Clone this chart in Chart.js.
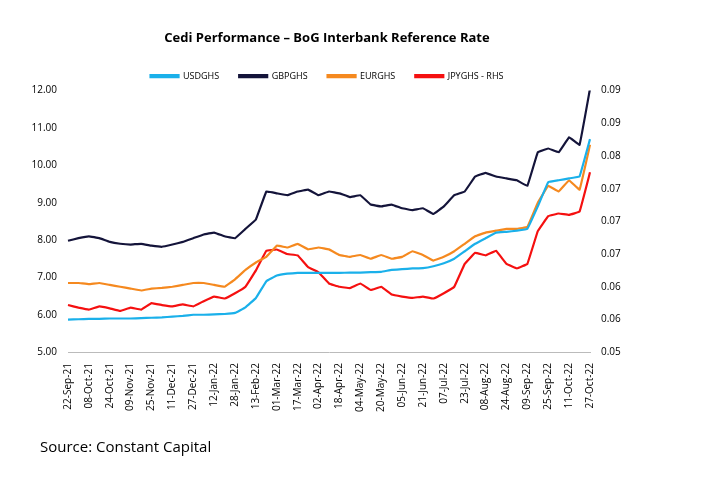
<!DOCTYPE html>
<html lang="en">
<head>
<meta charset="UTF-8">
<title>Cedi Performance</title>
<script src="https://cdn.jsdelivr.net/npm/chart.js@4.4.0/dist/chart.umd.min.js"></script>
<style>
  body { margin: 0; background: #fff; }
  .wrap { position: relative; width: 725px; height: 479px; }
  .source { position: absolute; left: 40px; top: 436px; font: 15px "Open Sans", sans-serif; color: #000; }
</style>
</head>
<body>
<div class="wrap">
  <canvas id="chart" width="725" height="479"></canvas>
  <div class="source">Source: Constant Capital</div>
</div>
<script>
// 8-day samples, Sep-21 to Oct-22
var dates = ["22-Sep-21","30-Sep-21","08-Oct-21","16-Oct-21","24-Oct-21","01-Nov-21","09-Nov-21","17-Nov-21","25-Nov-21","03-Dec-21",
  "11-Dec-21","19-Dec-21","27-Dec-21","04-Jan-22","12-Jan-22","20-Jan-22","28-Jan-22","05-Feb-22","13-Feb-22","21-Feb-22",
  "01-Mar-22","09-Mar-22","17-Mar-22","25-Mar-22","02-Apr-22","10-Apr-22","18-Apr-22","26-Apr-22","04-May-22","12-May-22",
  "20-May-22","28-May-22","05-Jun-22","13-Jun-22","21-Jun-22","29-Jun-22","07-Jul-22","15-Jul-22","23-Jul-22","31-Jul-22",
  "08-Aug-22","16-Aug-22","24-Aug-22","01-Sep-22","09-Sep-22","17-Sep-22","25-Sep-22","03-Oct-22","11-Oct-22","19-Oct-22","27-Oct-22"];

var usdghs = [5.87,5.88,5.89,5.89,5.9,5.9,5.9,5.91,5.92,5.93,5.95,5.97,6.0,6.0,6.01,6.02,6.05,6.2,6.45,6.9,
  7.05,7.1,7.12,7.12,7.12,7.12,7.12,7.13,7.13,7.14,7.15,7.2,7.22,7.24,7.25,7.3,7.38,7.5,7.7,7.9,
  8.05,8.2,8.22,8.25,8.3,8.9,9.55,9.6,9.65,9.7,10.7];
var gbpghs = [7.98,8.05,8.1,8.05,7.95,7.9,7.88,7.9,7.85,7.82,7.88,7.95,8.05,8.15,8.2,8.1,8.05,8.3,8.55,9.3,
  9.25,9.2,9.3,9.35,9.2,9.3,9.25,9.15,9.2,8.95,8.9,8.95,8.85,8.8,8.85,8.7,8.9,9.2,9.3,9.7,
  9.8,9.7,9.65,9.6,9.45,10.35,10.45,10.35,10.75,10.55,12.05];
var eurghs = [6.85,6.85,6.82,6.85,6.8,6.75,6.7,6.65,6.7,6.72,6.75,6.8,6.85,6.85,6.8,6.75,6.95,7.2,7.4,7.55,
  7.85,7.8,7.9,7.75,7.8,7.75,7.6,7.55,7.6,7.5,7.6,7.5,7.55,7.7,7.6,7.45,7.55,7.7,7.9,8.1,
  8.2,8.25,8.3,8.3,8.35,9.0,9.45,9.3,9.6,9.35,10.55];
var jpyghs = [0.0572,0.0568,0.0565,0.057,0.0567,0.0563,0.0568,0.0565,0.0575,0.0572,0.057,0.0573,0.057,0.0578,0.0585,0.0582,0.059,0.06,0.0625,0.0655,
  0.0657,0.065,0.0648,0.063,0.0622,0.0605,0.06,0.0598,0.0605,0.0595,0.06,0.0588,0.0585,0.0583,0.0585,0.0582,0.059,0.06,0.0635,0.0652,
  0.0648,0.0655,0.0635,0.0628,0.0635,0.0685,0.0708,0.0712,0.071,0.0715,0.0775];

var tickFont = { family: "Open Sans", size: 10 };

function line(label, data, color, axis) {
  return { label: label, data: data, borderColor: color, backgroundColor: color, borderWidth: 2.2,
    pointRadius: 0, tension: 0.05, yAxisID: axis };
}

new Chart(document.getElementById("chart"), {
  type: "line",
  data: {
    labels: dates,
    datasets: [
      line("USDGHS", usdghs, "#1ab0ea", "y"),
      line("GBPGHS", gbpghs, "#14143a", "y"),
      line("EURGHS", eurghs, "#f5891f", "y"),
      line("JPYGHS - RHS", jpyghs, "#f51010", "y1")
    ]
  },
  options: {
    responsive: false,
    animation: false,
    layout: { padding: { left: 24, right: 95, top: 30, bottom: 64 } },
    plugins: {
      title: { display: true, text: "Cedi Performance \u2013 BoG Interbank Reference Rate",
        font: { family: "Open Sans", size: 13, weight: "bold" }, color: "#000", padding: { bottom: 6 } },
      legend: { labels: { boxWidth: 28, boxHeight: 2, font: { family: "Open Sans", size: 9 }, color: "#000", padding: 20 } }
    },
    scales: {
      x: {
        grid: { display: false, drawTicks: true },
        border: { color: "#bbb" },
        ticks: { font: tickFont, color: "#000", maxRotation: 90, minRotation: 90, autoSkip: false,
          callback: function (v, i) { return i % 2 === 0 ? this.getLabelForValue(v) : ""; } }
      },
      y: {
        min: 5, max: 12, grid: { display: false }, border: { display: false },
        ticks: { stepSize: 1, font: tickFont, color: "#000", callback: function (v) { return v.toFixed(2); } },
        afterFit: function (s) { s.width = 44; }
      },
      y1: {
        position: "right", min: 0.05, max: 0.09, grid: { display: false }, border: { display: false },
        ticks: { stepSize: 0.005, font: tickFont, color: "#000", callback: function (v) { return v.toFixed(2); } },
        afterFit: function (s) { s.width = 40; }
      }
    }
  }
});
</script>
</body>
</html>
